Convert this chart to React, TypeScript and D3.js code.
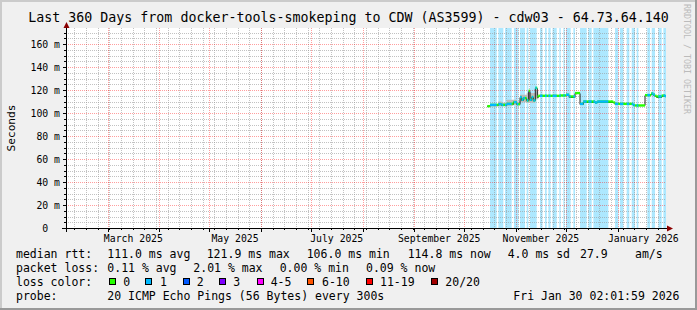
import React from "react";
import * as d3 from "d3";

// ---------- data ----------
const RANGE_START = "2025-02-04T02:02";
const RANGE_END = "2026-01-30T02:02";
const Y_MAX_MS = 174;

const titleText = "Last 360 Days from docker-tools-smokeping to CDW (AS3599) - cdw03 - 64.73.64.140";
const yAxisTitle = "Seconds";
const watermark = "RRDTOOL / TOBI OETIKER";

const xLabelMonths = ["2025-03-01T00:00", "2025-05-01T00:00", "2025-07-01T00:00", "2025-09-01T00:00", "2025-11-01T00:00", "2026-01-01T00:00"];
const xLabels = ["March 2025", "May 2025", "July 2025", "September 2025", "November 2025", "January 2026"];
const yTickValues = [0, 20, 40, 60, 80, 100, 120, 140, 160];
const yTickLabels = ["0", "20 m", "40 m", "60 m", "80 m", "100 m", "120 m", "140 m", "160 m"];

const medianTimes = [
  "2025-10-14T21:00", "2025-10-16T12:00", "2025-10-21T11:00", "2025-10-23T12:00", "2025-10-26T12:00",
  "2025-10-30T11:00", "2025-11-01T12:00", "2025-11-03T12:00", "2025-11-04T12:00", "2025-11-05T11:00",
  "2025-11-07T12:00", "2025-11-08T17:00", "2025-11-09T12:00", "2025-11-10T12:00", "2025-11-11T11:00",
  "2025-11-12T16:00", "2025-11-13T21:00", "2025-11-14T11:00", "2025-11-27T12:00", "2025-12-01T02:00",
  "2025-12-03T01:00", "2025-12-06T12:00", "2025-12-09T12:00", "2025-12-11T11:00", "2025-12-18T12:00",
  "2025-12-19T21:00", "2025-12-29T11:00", "2025-12-30T12:00", "2026-01-10T11:00", "2026-01-11T12:00",
  "2026-01-17T12:00", "2026-01-21T02:00", "2026-01-22T11:00", "2026-01-23T12:00", "2026-01-24T12:00",
  "2026-01-27T12:00", "2026-01-29T12:00",
];
const medianMs = [
  106.0, 107.1, 107.8, 107.1, 108.0,
  109.5, 107.8, 113.9, 111.6, 113.0,
  111.0, 119.4, 111.6, 113.9, 111.0,
  121.9, 114.4, 115.0, 115.3, 115.9,
  114.4, 117.4, 108.0, 110.0, 109.2,
  110.0, 109.2, 108.0, 107.0, 106.6,
  115.6, 117.0, 116.0, 115.0, 114.4,
  115.2, 114.8,
];

const lossStarts = [
  "2025-10-16T12:00", "2025-10-21T12:00", "2025-10-25T12:00", "2025-10-30T20:00", "2025-11-03T12:00",
  "2025-11-07T12:00", "2025-11-09T12:00", "2025-11-15T12:00", "2025-11-18T12:00", "2025-11-20T12:00",
  "2025-11-23T00:00", "2025-11-27T02:00", "2025-11-29T12:00", "2025-12-01T02:00", "2025-12-05T12:00",
  "2025-12-09T12:00", "2025-12-14T12:00", "2025-12-17T12:00", "2025-12-30T12:00", "2026-01-02T12:00",
  "2026-01-06T12:00", "2026-01-09T12:00", "2026-01-12T12:00", "2026-01-18T21:00", "2026-01-21T12:00",
  "2026-01-25T12:00", "2026-01-28T12:00",
];
const lossEnds = [
  "2025-10-20T12:00", "2025-10-24T12:00", "2025-10-29T12:00", "2025-11-02T12:00", "2025-11-06T12:00",
  "2025-11-08T12:00", "2025-11-13T12:00", "2025-11-17T00:00", "2025-11-19T12:00", "2025-11-21T20:00",
  "2025-11-25T12:00", "2025-11-27T22:00", "2025-11-30T06:00", "2025-12-03T21:00", "2025-12-06T12:00",
  "2025-12-13T12:00", "2025-12-16T12:00", "2025-12-26T12:00", "2026-01-01T12:00", "2026-01-04T12:00",
  "2026-01-08T02:00", "2026-01-11T12:00", "2026-01-13T12:00", "2026-01-20T12:00", "2026-01-23T12:00",
  "2026-01-27T12:00", "2026-01-30T02:02",
];

const smokeTimes = [
  "2025-10-14T21:00", "2025-10-21T11:00", "2025-10-23T12:00", "2025-10-26T12:00", "2025-10-30T11:00",
  "2025-11-01T12:00", "2025-11-03T12:00", "2025-11-07T12:00", "2025-11-12T16:00", "2025-11-14T11:00",
];
const smokeLowMs = [105.6, 106.0, 106.0, 106.3, 107.0, 106.5, 109.5, 109.0, 112.0, 114.2];
const smokeHighMs = [107.0, 110.0, 109.0, 111.5, 111.5, 110.0, 116.0, 117.5, 119.0, 115.8];

const legendHeads = ["median rtt:", "packet loss:", "loss color:", "probe:"];
const rttStats = ["111.0 ms avg", "121.9 ms max", "106.0 ms min", "114.8 ms now", "4.0 ms sd", "27.9", "am/s"];
const lossStats = ["0.11 % avg", "2.01 % max", "0.00 % min", "0.09 % now"];
const lossColorLabels = ["0", "1", "2", "3", "4-5", "6-10", "11-19", "20/20"];
const lossColors = ["#26ff00", "#00b8ff", "#0059ff", "#7e00ff", "#ff00ff", "#ff5500", "#ff0000", "#a10000"];
const probeText = "20 ICMP Echo Pings (56 Bytes) every 300s";
const stampText = "Fri Jan 30 02:01:59 2026";

// ---------- layout ----------
const W = 697;
const H = 310;
const PL = 66;
const PR = 666;
const PT = 28;
const PB = 228;
const MONO = "'DejaVu Sans Mono', monospace";

const parse = (s: string) => new Date(s + ":00Z");

export default function App() {
  const t0 = parse(RANGE_START);
  const t1 = parse(RANGE_END);
  const x = d3.scaleUtc().domain([t0, t1]).range([PL, PR]);
  const y = d3.scaleLinear().domain([0, Y_MAX_MS]).range([PB, PT]);

  const weeks = d3.utcSunday.range(t0, t1);
  const months = d3.utcMonth.range(t0, t1);
  const minorY = d3.range(5, Y_MAX_MS, 5).filter((v) => v % 20 !== 0);
  const majorY = yTickValues.filter((v) => v > 0);
  const cx = (d: Date) => Math.round(x(d)) + 0.5;
  const cy = (v: number) => Math.round(y(v)) + 0.5;

  const med = medianTimes.map((t, i) => ({ t: parse(t), v: medianMs[i] }));
  const segs = med.map((p, i) => ({
    x0: x(p.t),
    x1: i < med.length - 1 ? x(med[i + 1].t) : x(t1),
    v: p.v,
  }));
  const stepLine = d3
    .line<{ t: Date; v: number }>()
    .x((d) => x(d.t))
    .y((d) => Math.round(y(d.v)) + 0.5)
    .curve(d3.curveStepAfter);
  const medExt = [...med, { t: t1, v: med[med.length - 1].v }];

  const smoke = smokeTimes.map((t, i) => ({ t: parse(t), lo: smokeLowMs[i], hi: smokeHighMs[i] }));
  const smokeArea = d3
    .area<{ t: Date; lo: number; hi: number }>()
    .x((d) => x(d.t))
    .y0((d) => y(d.lo))
    .y1((d) => y(d.hi))
    .curve(d3.curveStepAfter);

  const bands = lossStarts.map((s, i) => ({ a: x(parse(s)), b: x(parse(lossEnds[i])) }));

  const BAR = 2.4;

  const rttX = [107.3, 206.7, 306.7, 407.7, 507.7, 580, 635];
  const lossX = [107.3, 193.3, 279.7, 366];
  const boxX = [108.7, 145.3, 182.7, 219.3, 256.7, 307.3, 366, 430.7];
  const boxLabelX = [123.3, 160, 196.7, 233.3, 270.7, 322, 380, 445.3];
  const rows = [257.5, 271.5, 285.5, 299.5];
  const LF = 11.5;

  return (
    <svg
      width={W}
      height={H}
      viewBox={`0 0 ${W} ${H}`}
      style={{ position: "absolute", left: 0, top: 0, display: "block" }}
      fontFamily={MONO}
    >
      <defs>
        <clipPath id="lossClip">
          {bands.map((b, i) => (
            <rect key={i} x={b.a} y={0} width={b.b - b.a} height={H} />
          ))}
        </clipPath>
      </defs>
      {/* background + 3D border */}
      <rect x={0} y={0} width={W} height={H} fill="#f0f0f0" />
      <rect x={0} y={0} width={W} height={2} fill="#cbcbcb" />
      <rect x={0} y={0} width={2} height={H} fill="#cbcbcb" />
      <rect x={0} y={H - 2} width={W} height={2} fill="#999999" />
      <rect x={W - 2} y={0} width={2} height={H} fill="#999999" />

      {/* canvas */}
      <rect x={PL} y={PT} width={PR - PL} height={PB - PT} fill="#ffffff" />

      {/* loss background */}
      {bands.map((b, i) => (
        <rect key={i} x={b.a} y={PT} width={b.b - b.a} height={PB - PT} fill="#00b8ff" fillOpacity={0.32} />
      ))}

      {/* grid */}
      <g shapeRendering="crispEdges" strokeWidth={1} strokeDasharray="1,1">
        {weeks.map((d, i) => (
          <line key={"w" + i} x1={cx(d)} x2={cx(d)} y1={PT} y2={PB} stroke="#999999" strokeOpacity={0.6} />
        ))}
        {minorY.map((v) => (
          <line key={"h" + v} x1={PL} x2={PR} y1={cy(v)} y2={cy(v)} stroke="#999999" strokeOpacity={0.6} />
        ))}
        {months.map((d, i) => (
          <line key={"m" + i} x1={cx(d)} x2={cx(d)} y1={PT} y2={PB} stroke="#ff0000" strokeOpacity={0.38} />
        ))}
        {majorY.map((v) => (
          <line key={"M" + v} x1={PL} x2={PR} y1={cy(v)} y2={cy(v)} stroke="#ff0000" strokeOpacity={0.38} />
        ))}
      </g>

      {/* smoke */}
      <path d={smokeArea(smoke) || ""} fill="#bdbdbd" />

      {/* median line */}
      <path d={stepLine(medExt) || ""} fill="none" stroke="#202020" strokeWidth={1} />
      <g>
        {segs.map((s, i) => (
          <rect key={i} x={s.x0} y={y(s.v) - BAR / 2} width={s.x1 - s.x0} height={BAR} fill={lossColors[0]} />
        ))}
      </g>
      <g clipPath="url(#lossClip)">
        {segs.map((s, i) => (
          <rect key={i} x={s.x0} y={y(s.v) - BAR / 2} width={s.x1 - s.x0} height={BAR} fill={lossColors[1]} />
        ))}
      </g>

      {/* axes */}
      <g shapeRendering="crispEdges" stroke="#000000">
        <line x1={62} x2={668} y1={PB + 0.5} y2={PB + 0.5} />
        <line x1={PL + 0.5} x2={PL + 0.5} y1={232} y2={25} />
        {weeks.map((d, i) => (
          <line key={"tw" + i} x1={cx(d)} x2={cx(d)} y1={PB} y2={PB + 2} />
        ))}
        {months.map((d, i) => (
          <line key={"tm" + i} x1={cx(d)} x2={cx(d)} y1={PB} y2={PB + 4} />
        ))}
        {minorY.map((v) => (
          <line key={"ty" + v} x1={PL - 2} x2={PL} y1={cy(v)} y2={cy(v)} />
        ))}
        {majorY.map((v) => (
          <line key={"tY" + v} x1={PL - 3} x2={PL} y1={cy(v)} y2={cy(v)} />
        ))}
      </g>
      <path d={`M${PR + 7},${PB + 0.5} L${PR + 1},${PB - 2.5} L${PR + 1},${PB + 3.5} Z`} fill="#8b0000" />
      <path d={`M${PL + 0.5},${PT - 6} L${PL - 2.5},${PT} L${PL + 3.5},${PT} Z`} fill="#8b0000" />

      {/* y tick labels */}
      <g fontSize={9.8} fill="#000">
        {yTickValues.map((v, i) => (
          <text key={v} x={v === 0 ? 60 - 2 * 5.9 : 60} y={y(v) + 3.6} textAnchor="end">
            {yTickLabels[i]}
          </text>
        ))}
      </g>

      {/* x labels, centred on the labelled month */}
      <g fontSize={9.8} fill="#000">
        {xLabelMonths.map((m, i) => {
          const ms = parse(m);
          const next = d3.utcMonth.offset(ms, 1);
          const c = (x(ms) + x(next)) / 2;
          return (
            <text key={m} x={c} y={241.5} textAnchor="middle">
              {xLabels[i]}
            </text>
          );
        })}
      </g>

      {/* titles */}
      <text x={W / 2} y={22} textAnchor="middle" fontSize={13.3} fill="#000">
        {titleText}
      </text>
      <text transform="translate(15,128) rotate(-90)" textAnchor="middle" fontSize={11.2} fill="#000">
        {yAxisTitle}
      </text>
      <text transform="translate(683.5,4) rotate(90)" fontSize={8.3} fill="#bbbbbb">
        {watermark}
      </text>

      {/* legend */}
      <g fontSize={LF} fill="#000" style={{ whiteSpace: "pre" }}>
        {legendHeads.map((h, i) => (
          <text key={h} x={16} y={rows[i]}>
            {h}
          </text>
        ))}
        {rttStats.map((s, i) => (
          <text key={"r" + i} x={rttX[i]} y={rows[0]}>
            {s}
          </text>
        ))}
        {lossStats.map((s, i) => (
          <text key={"l" + i} x={lossX[i]} y={rows[1]}>
            {s}
          </text>
        ))}
        {lossColorLabels.map((s, i) => (
          <g key={"c" + i}>
            <rect
              x={Math.round(boxX[i]) + 0.5}
              y={278.5}
              width={6}
              height={6}
              fill={lossColors[i]}
              stroke="#000"
              strokeWidth={1}
              shapeRendering="crispEdges"
            />
            <text x={boxLabelX[i]} y={rows[2]}>
              {s}
            </text>
          </g>
        ))}
        <text x={107.3} y={rows[3]}>
          {probeText}
        </text>
        <text x={513.3} y={rows[3]}>
          {stampText}
        </text>
      </g>
    </svg>
  );
}
